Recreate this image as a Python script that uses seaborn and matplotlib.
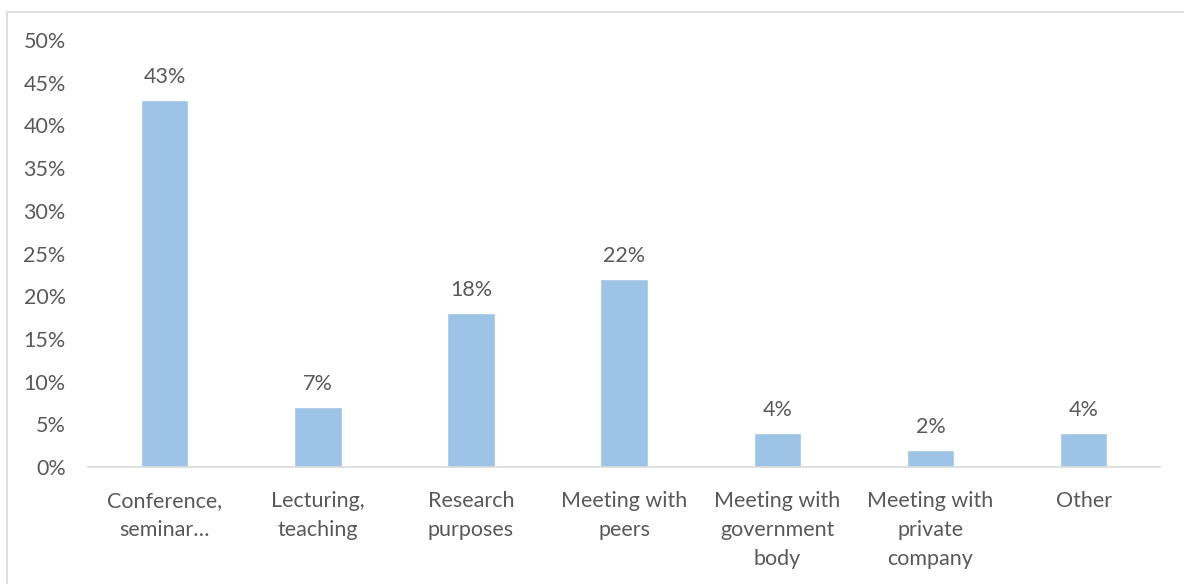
import matplotlib
matplotlib.use("Agg")
import matplotlib.pyplot as plt
import seaborn as sns
import pandas as pd
from matplotlib.patches import Rectangle
from matplotlib.ticker import PercentFormatter

# ── data ───────────────────────────────────────────────────────────────────────
categories = [
    "Conference,\nseminar…",
    "Lecturing,\nteaching",
    "Research\npurposes",
    "Meeting with\npeers",
    "Meeting with\ngovernment\nbody",
    "Meeting with\nprivate\ncompany",
    "Other",
]
shares = [43, 7, 18, 22, 4, 2, 4]
y_ticks = [0, 5, 10, 15, 20, 25, 30, 35, 40, 45, 50]

TEXT = "#595959"
BAR = "#9DC3E6"
FS = 15.5

sns.set_theme(style="white")
plt.rcParams["font.family"] = ["Lato", "DejaVu Sans"]

df = pd.DataFrame({"cat": categories, "share": shares})

fig = plt.figure(figsize=(11.84, 5.84), dpi=100)
ax = fig.add_axes([0.0743, 0.2003, 0.9057, 0.7312])

sns.barplot(data=df, x="cat", y="share", color=BAR, saturation=1,
            width=0.31, ax=ax)

for i, v in enumerate(shares):
    ax.text(i, v + 1.5, f"{v}%", ha="center", va="bottom",
            fontsize=FS, color=TEXT)

ax.set_xlim(-0.5, len(categories) - 0.5)
ax.set_ylim(0, 50)
ax.set_yticks(y_ticks)
ax.yaxis.set_major_formatter(PercentFormatter(decimals=0))
ax.set_xlabel("")
ax.set_ylabel("")
ax.tick_params(axis="both", length=0, labelsize=FS, labelcolor=TEXT)
ax.tick_params(axis="y", pad=16)
ax.tick_params(axis="x", pad=17.5)
for lbl in ax.get_xticklabels():
    lbl.set_linespacing(1.55)

for side in ["top", "right", "left"]:
    ax.spines[side].set_visible(False)
ax.spines["bottom"].set_color("#D9D9D9")
ax.spines["bottom"].set_linewidth(1.2)

# outer chart border
fig.patches.append(Rectangle((7 / 1184, -0.01), 1.02, 1 - 12 / 584 + 0.01,
                             transform=fig.transFigure, fill=False,
                             edgecolor="#D9D9D9", linewidth=1.2))

fig.savefig("out.png", dpi=100)
